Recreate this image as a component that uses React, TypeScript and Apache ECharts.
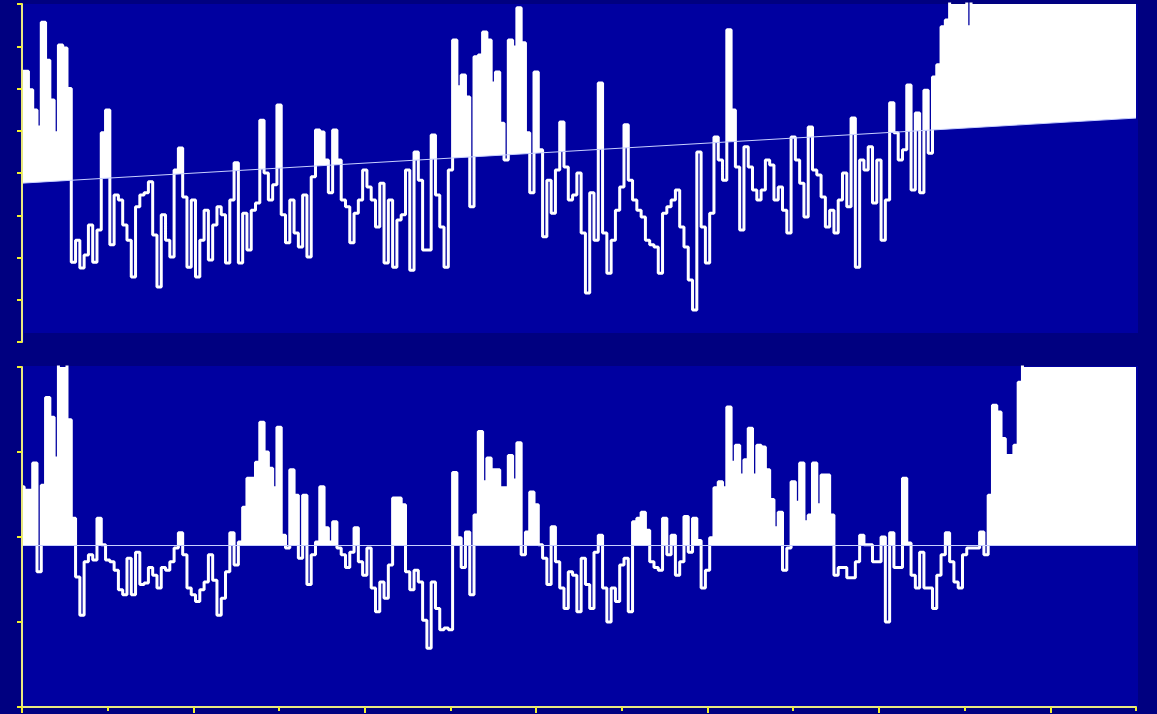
import React, { useEffect, useRef } from "react";
import * as echarts from "echarts";

// ---- data ----
const X_STEP = 0.5;
const X_MIN = 0;
const X_MAX = 130;

const TOP_Y_MAX = 80;
const BOTTOM_Y_MAX = 40;

const topValuesA = [
  64.1, 64.1, 59.7, 54.9, 50.9, 75.7, 66.7, 57.3, 49.5, 70.3, 69.6, 60.0,
  18.9, 24.1, 17.5, 20.6, 27.7, 18.9, 26.5, 49.5, 54.9, 23.0, 34.8, 33.6,
  27.7, 24.1, 15.4, 32.0, 34.8, 35.3, 37.9, 25.3, 13.0, 30.1, 24.1, 20.1,
  40.7, 45.9, 34.3, 17.7, 33.6, 15.4, 24.1, 31.2, 19.4, 27.7, 32.0, 30.1,
  18.7, 33.6, 42.4, 18.7, 30.5, 21.8, 31.2, 32.9, 52.5, 40.0, 33.6, 37.2,
  56.1, 30.1, 23.5, 33.6, 25.8, 22.5, 34.8, 20.1, 39.1, 50.2, 49.7, 43.1,
  35.3, 50.2, 43.1, 33.6, 32.0, 23.5, 30.5, 33.6, 40.7, 36.7, 33.6, 27.2,
  37.6, 18.7, 33.6,
];
const topValuesB = [
  17.7, 28.9, 30.1, 40.7, 17.0, 45.0, 38.3, 21.8, 21.8,
  49.0, 34.8, 27.2, 17.7, 40.7, 71.5, 60.4, 63.2, 58.0, 32.0, 67.5, 67.9,
  73.4, 71.5, 61.3, 63.9, 51.8, 43.1, 71.5, 69.8, 79.1, 70.8, 49.5, 35.3,
  63.9, 45.5, 24.9, 38.3, 30.5, 40.7, 52.1, 41.4, 33.6, 34.8, 40.0, 25.8,
  11.6, 35.3, 24.1, 61.3, 25.8, 16.3, 24.1, 31.2, 36.7, 51.4, 38.3, 33.6,
  31.2, 29.6, 24.1, 23.0, 22.5, 16.3, 30.5, 32.0, 33.6, 36.0, 27.2, 22.5,
  14.7, 7.6, 45.0, 27.2, 18.7, 30.5, 48.5, 43.1, 38.3, 73.9, 54.9, 41.4,
  26.5, 46.2, 41.4, 36.0, 33.6,
];
const topValuesC = [
  36.0, 43.1, 41.9, 33.6, 36.7, 31.2, 25.8,
  48.5, 43.1, 37.6, 29.6, 50.9, 40.7, 39.5, 34.3, 27.2, 31.2, 25.8, 33.6,
  40.0, 32.0, 53.0, 17.7, 43.1, 40.7, 46.2, 32.9, 43.1, 24.1, 33.6, 56.6,
  49.5, 43.1, 45.5, 60.8, 36.0, 54.2, 35.3, 59.6, 44.7, 62.7, 65.6, 74.6,
  76.2, 88, 90, 89, 86, 74.6, 90, 92, 91, 93, 90, 92,
  91, 93, 90, 92, 94, 91, 90, 93, 92, 91, 94, 92,
  90, 93, 91, 92, 94, 90, 92, 93, 91, 92, 90, 93,
  92, 91, 94, 90, 92, 93, 91, 92, 90,
];
const topTrendStart = 37.6;
const topTrendEnd = 53.0;

const bottomValuesA = [
  25.9, 25.5, 25.5, 28.7, 15.9, 26.1, 36.4, 34.1, 29.3, 40.5, 40.5, 33.8,
  22.2, 15.3, 10.8, 17.1, 17.9, 17.3, 22.2, 19.1, 17.3, 17.1, 16.1, 13.8,
  13.2, 17.5, 13.2, 18.2, 14.4, 14.6, 16.4, 15.5, 14.0, 16.4, 16.1, 17.1,
  18.7, 20.5, 17.9, 14.0, 13.2, 12.4, 13.8, 14.7, 17.9, 14.9, 10.8, 12.8,
  15.9, 20.5, 16.7, 19.4, 23.5, 26.9, 26.9, 28.8, 33.5, 30.0, 28.1, 25.8,
  32.9, 20.2, 18.7, 27.9, 24.9, 17.5, 24.9, 14.4, 17.9, 19.4, 25.9, 21.1,
  19.4, 21.8, 18.7, 17.9, 16.4, 18.2, 21.1, 17.1, 15.5, 18.7, 14.0, 11.2,
  14.7, 12.8, 16.7,
];
const bottomValuesB = [
  24.6, 24.6, 23.8, 15.9, 13.8, 16.1, 14.7, 10.2, 6.9,
  14.7, 11.6, 9.1, 9.3, 9.1, 27.6, 19.9, 16.4, 20.6, 13.2, 22.6, 32.4,
  26.5, 29.3, 27.9, 27.9, 25.8, 25.8, 29.6, 26.7, 31.1, 17.9, 20.6, 25.3,
  23.8, 19.1, 17.5, 14.4, 21.2, 17.1, 14.0, 11.6, 15.9, 15.5, 11.2, 17.5,
  14.4, 11.6, 18.2, 20.2, 14.0, 10.0, 14.0, 12.4, 16.7, 17.5, 11.2, 21.8,
  22.2, 22.9, 20.8, 17.1, 16.4, 16.1, 22.2, 17.9, 20.2, 15.5, 17.1, 22.4,
  18.2, 22.2, 19.6, 14.0, 16.1, 19.9, 25.8, 26.5, 25.8, 35.3, 28.8, 30.8,
  27.3, 29.1, 32.8, 27.3, 30.8,
];
const bottomValuesC = [
  30.6, 27.9, 24.4, 21.1, 22.9, 16.1, 18.7,
  26.5, 24.1, 28.7, 21.8, 22.6, 28.7, 23.8, 27.3, 27.3, 22.6, 15.5, 16.4,
  16.4, 15.2, 15.2, 17.1, 20.2, 19.1, 19.1, 17.1, 17.1, 20.0, 10.0, 20.5,
  16.4, 16.4, 26.9, 19.3, 15.5, 14.0, 18.2, 14.0, 14.0, 11.6, 15.5, 17.9,
  20.5, 17.1, 14.7, 14.0, 17.9, 18.7, 18.7, 18.7, 20.6, 17.9, 24.9, 35.5,
  34.7, 31.6, 29.6, 29.6, 30.8, 38.2,
  44, 46, 45, 47, 45, 44, 46, 45, 47, 46, 45, 44, 46, 45, 47, 45, 44, 46,
  45, 46, 47, 45, 44, 46, 45, 46, 45,
];
const bottomBaseline = 19.0;

const xTicksLong = [0, 20, 40, 60, 80, 100, 120];
const xTicksShort = [10, 30, 50, 70, 90, 110, 130];

// ---- styles ----
const OUTER = "#000080";
const INNER = "#0000A0";
const AXIS_LINE = "#E8E880";
const AXIS_TICK = "#F0F030";
const REF_LINE = "#C8D0FF";

const topValues = [...topValuesA, ...topValuesB, ...topValuesC];
const bottomValues = [...bottomValuesA, ...bottomValuesB, ...bottomValuesC];

function toPoints(vals: number[]) {
  return vals.map((v, i) => [X_MIN + i * X_STEP, v]);
}

function panelSeries(idx: number, vals: number[], refStart: number, refEnd: number) {
  const pts = toPoints(vals);
  const ref = [
    [X_MIN, refStart],
    [X_MAX, refEnd],
  ];
  const common = {
    type: "line",
    xAxisIndex: idx,
    yAxisIndex: idx,
    symbol: "none",
    silent: true,
    animation: false,
  };
  return [
    {
      ...common,
      data: pts,
      step: "middle",
      lineStyle: { width: 0, opacity: 0 },
      areaStyle: { color: "#FFFFFF", opacity: 1, origin: "start" },
      z: 2,
    },
    {
      ...common,
      data: ref,
      lineStyle: { width: 0, opacity: 0 },
      areaStyle: { color: INNER, opacity: 1, origin: "start" },
      z: 3,
    },
    {
      ...common,
      data: pts,
      step: "middle",
      lineStyle: { color: "#FFFFFF", width: 3 },
      z: 4,
    },
    {
      ...common,
      data: ref,
      lineStyle: { color: REF_LINE, width: 1 },
      z: 5,
    },
  ];
}

export default function App() {
  const ref = useRef<HTMLDivElement>(null);
  useEffect(() => {
    if (!ref.current) return;
    const chart = echarts.init(ref.current, undefined, { renderer: "svg" });
    const yAxisBase = {
      type: "value",
      position: "left",
      z: 10,
      axisLine: { show: true, lineStyle: { color: AXIS_LINE, width: 2 } },
      axisTick: { show: true, length: 5, lineStyle: { color: AXIS_TICK, width: 2 } },
      axisLabel: { show: false },
      splitLine: { show: false },
    };
    chart.setOption({
      animation: false,
      backgroundColor: OUTER,
      graphic: [
        { type: "rect", z: 0, silent: true, shape: { x: 22, y: 4, width: 1116, height: 329 }, style: { fill: INNER } },
        { type: "rect", z: 0, silent: true, shape: { x: 22, y: 366, width: 1116, height: 341 }, style: { fill: INNER } },
        { type: "rect", z: 50, silent: true, shape: { x: 24, y: 333, width: 1133, height: 12 }, style: { fill: OUTER } },
      ],
      grid: [
        { left: 22, top: 4, width: 1114, height: 338 },
        { left: 22, top: 367, width: 1114, height: 340 },
      ],
      xAxis: [
        { type: "value", gridIndex: 0, position: "bottom", min: X_MIN, max: X_MAX, show: false },
        {
          type: "value",
          gridIndex: 1,
          position: "bottom",
          offset: 0,
          min: X_MIN,
          max: X_MAX,
          z: 10,
          axisLine: { show: true, lineStyle: { color: AXIS_LINE, width: 2 } },
          axisTick: { show: true, length: 6, customValues: xTicksLong, lineStyle: { color: AXIS_TICK, width: 2 } },
          axisLabel: { show: false },
          splitLine: { show: false },
        },
        {
          type: "value",
          gridIndex: 1,
          position: "bottom",
          offset: 0,
          min: X_MIN,
          max: X_MAX,
          z: 10,
          axisLine: { show: false },
          axisTick: { show: true, length: 4, customValues: xTicksShort, lineStyle: { color: AXIS_TICK, width: 2 } },
          axisLabel: { show: false },
          splitLine: { show: false },
        },
      ],
      yAxis: [
        { ...yAxisBase, gridIndex: 0, min: 0, max: TOP_Y_MAX, interval: 10 },
        { ...yAxisBase, gridIndex: 1, min: 0, max: BOTTOM_Y_MAX, interval: 10 },
      ],
      series: [
        ...panelSeries(0, topValues, topTrendStart, topTrendEnd),
        ...panelSeries(1, bottomValues, bottomBaseline, bottomBaseline),
      ],
    });
    return () => chart.dispose();
  }, []);
  return (
    <div
      ref={ref}
      style={{ position: "fixed", left: 0, top: 0, width: 1157, height: 714 }}
    />
  );
}
